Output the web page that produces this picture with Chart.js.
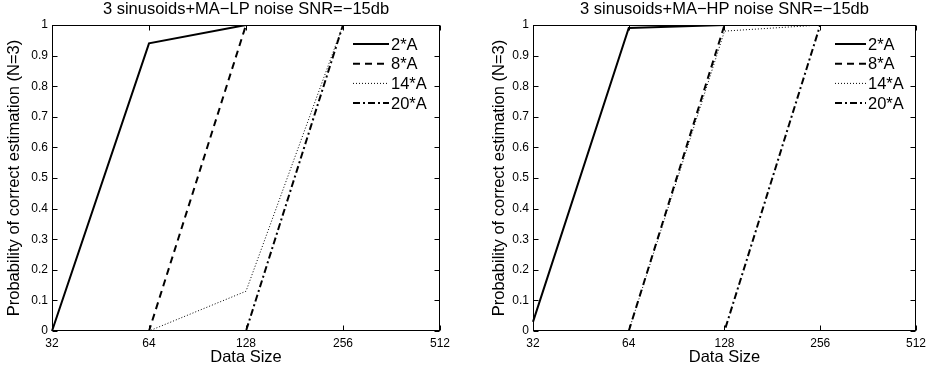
<!DOCTYPE html>
<html>
<head>
<meta charset="utf-8">
<script src="https://cdn.jsdelivr.net/npm/chart.js"></script>
<style>
  body { margin: 0; background: #fff; }
  #wrap { position: relative; width: 931px; height: 371px; }
  canvas { position: absolute; top: 0; }
</style>
</head>
<body>
<div id="wrap">
  <canvas id="lp" width="466" height="371" style="left:0"></canvas>
  <canvas id="hp" width="465" height="371" style="left:466px"></canvas>
</div>
<script>
// x categories (log2 spaced data sizes)
const dataSizes = ['32', '64', '128', '256', '512'];
const seriesNames = ['2*A', '8*A', '14*A', '20*A'];

// MA-LP noise
const lp2A = [0, 0.94, 1, 1, 1];
const lp8A = [0, 0, 1, 1, 1];
const lp14A = [0, 0, 0.13, 1, 1];
const lp20A = [0, 0, 0, 1, 1];

// MA-HP noise
const hp2A = [0.03, 0.99, 1, 1, 1];
const hp8A = [0, 0, 1, 1, 1];
const hp14A = [0, 0, 0.98, 1, 1];
const hp20A = [0, 0, 0, 1, 1];

const FONT = '"Liberation Sans", Arial, Helvetica, sans-serif';
// solid, dashed, dotted, dash-dot
const lineStyles = [
  { w: 2, dash: [] },
  { w: 2, dash: [7, 5] },
  { w: 1, dash: [1, 2] },
  { w: 2, dash: [7, 3, 2, 3] },
];

// matlab-ish axes box with inward ticks
const boxPlugin = {
  id: 'mBox',
  afterDatasetsDraw(chart) {
    const { ctx, chartArea: a, scales: { x, y } } = chart;
    const L = Math.round(a.left) + 0.5, R = Math.round(a.right) - 0.5;
    const T = Math.round(a.top) + 0.5, B = Math.round(a.bottom) - 0.5;
    ctx.save();
    ctx.strokeStyle = '#000';
    ctx.lineWidth = 1;
    ctx.setLineDash([]);
    ctx.strokeRect(L, T, R - L, B - T);
    ctx.beginPath();
    x.ticks.forEach((t, i) => {
      const px = Math.round(x.getPixelForTick(i)) + 0.5;
      ctx.moveTo(px, B); ctx.lineTo(px, B - 5);
      ctx.moveTo(px, T); ctx.lineTo(px, T + 5);
    });
    y.ticks.forEach((t, i) => {
      const py = Math.round(y.getPixelForTick(i)) + 0.5;
      ctx.moveTo(L, py); ctx.lineTo(L + 5, py);
      ctx.moveTo(R, py); ctx.lineTo(R - 5, py);
    });
    ctx.stroke();
    ctx.restore();
  }
};

// legend drawn inside the plot, top right, no frame
const legendPlugin = {
  id: 'mLegend',
  afterDraw(chart, args, opts) {
    const { ctx } = chart;
    ctx.save();
    ctx.font = '16.5px ' + FONT;
    ctx.textBaseline = 'middle';
    ctx.fillStyle = '#000';
    chart.data.datasets.forEach((ds, i) => {
      const yy = opts.top + i * opts.step;
      ctx.strokeStyle = '#000';
      ctx.lineWidth = ds.borderWidth;
      ctx.setLineDash(ds.borderDash);
      ctx.beginPath();
      ctx.moveTo(opts.x0, yy);
      ctx.lineTo(opts.x1, yy);
      ctx.stroke();
      ctx.fillText(ds.label, opts.tx, yy + 1);
    });
    ctx.restore();
  }
};

function makeChart(id, title, series, cfg) {
  return new Chart(document.getElementById(id), {
    type: 'line',
    data: {
      labels: dataSizes,
      datasets: series.map((vals, i) => ({
        label: seriesNames[i],
        data: vals,
        borderColor: '#000',
        borderWidth: lineStyles[i].w,
        borderDash: lineStyles[i].dash,
        borderJoinStyle: 'miter',
        pointRadius: 0,
        tension: 0,
        fill: false,
      })),
    },
    options: {
      responsive: false,
      animation: false,
      layout: { padding: { left: 0, right: cfg.padRight, top: 0, bottom: 0 } },
      plugins: {
        legend: { display: false },
        tooltip: { enabled: false },
        title: {
          display: true, text: title, fullSize: false, color: '#000',
          font: { family: FONT, size: 16.5, weight: 'normal', lineHeight: 1.2 },
          padding: { top: 0, bottom: 5.2 },
        },
        mLegend: cfg.legend,
      },
      scales: {
        x: {
          type: 'category', offset: false,
          grid: { display: false, drawTicks: false },
          border: { display: false },
          ticks: { color: '#000', font: { family: FONT, size: 12 }, padding: 5, autoSkip: false, maxRotation: 0 },
          title: { display: true, text: 'Data Size', color: '#000', font: { family: FONT, size: 16.5 }, padding: { top: 0, bottom: 4 } },
          afterFit: (s) => { s.height = 40; },
        },
        y: {
          min: 0, max: 1,
          grid: { display: false, drawTicks: false },
          border: { display: false },
          ticks: {
            stepSize: 0.1, color: '#000', font: { family: FONT, size: 12 }, padding: 4,
            callback: (v) => String(Math.round(v * 10) / 10),
          },
          title: { display: true, text: 'Probability of correct estimation (N=3)', color: '#000', font: { family: FONT, size: 16.5 }, padding: { top: cfg.yTitlePad, bottom: 0 } },
          afterFit: (s) => { s.width = cfg.yWidth; },
        },
      },
    },
    plugins: [boxPlugin, legendPlugin],
  });
}

makeChart('lp', '3 sinusoids+MA\u2212LP noise SNR=\u221215db', [lp2A, lp8A, lp14A, lp20A], {
  padRight: 26, yWidth: 52, yTitlePad: 5,
  legend: { x0: 353, x1: 389, tx: 391, top: 44, step: 19.7 },
});
makeChart('hp', '3 sinusoids+MA\u2212HP noise SNR=\u221215db', [hp2A, hp8A, hp14A, hp20A], {
  padRight: 10, yWidth: 67, yTitlePad: 24,
  legend: { x0: 369, x1: 400, tx: 402, top: 44, step: 19.7 },
});
</script>
</body>
</html>
